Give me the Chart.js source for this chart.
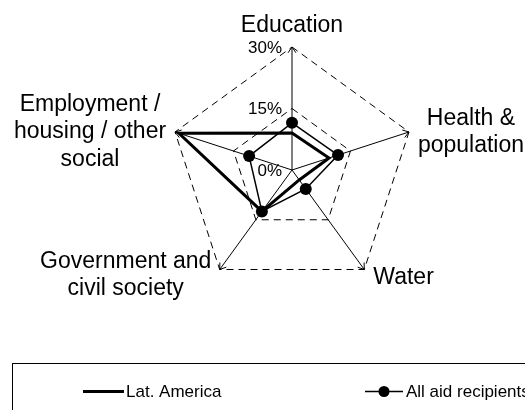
<!DOCTYPE html>
<html>
<head>
<meta charset="utf-8">
<script src="https://cdn.jsdelivr.net/npm/chart.js@4.4.1/dist/chart.umd.min.js"></script>
<style>
  html, body { margin:0; padding:0; background:#fff; }
  #wrap { width:525px; height:410px; position:relative; }
</style>
</head>
<body>
<div id="wrap"><canvas id="chartRadar"></canvas></div>
<script>
const categorias = [
  ['Education'],
  ['Health &', 'population'],
  ['Water'],
  ['Government and', 'civil society'],
  ['Employment /', 'housing / other', 'social']
];
const dataLatAm = [9, 9.5, 3, 12.5, 29];
const dataAllAid = [11.5, 11.8, 5.7, 12.5, 11];
const ticksValores = [0, 15, 30];

const FONT = '"Liberation Sans", Arial, sans-serif';

// where each category label sits relative to the end of its spoke
const labelLayout = [
  { dx: 0,   dy: -15, align: 'center' },
  { dx: 62,  dy: -7,  align: 'center' },
  { dx: 9,   dy: 14,  align: 'left' },
  { dx: -94, dy: -2,  align: 'center' },
  { dx: -85, dy: -21, align: 'center' }
];

const radarExtras = {
  id: 'radarExtras',
  afterDraw(chart){
    const {ctx} = chart;
    const r = chart.scales.r;
    const cx = r.xCenter, cy = r.yCenter;

    // arrow heads at spoke ends
    ctx.save();
    ctx.strokeStyle = '#000';
    ctx.lineWidth = 1;
    categorias.forEach((c, i) => {
      const p = r.getPointPosition(i, r.getDistanceFromCenterForValue(r.max));
      const a = Math.atan2(p.y - cy, p.x - cx);
      ctx.beginPath();
      ctx.moveTo(p.x - 7*Math.cos(a - 0.6), p.y - 7*Math.sin(a - 0.6));
      ctx.lineTo(p.x, p.y);
      ctx.lineTo(p.x - 7*Math.cos(a + 0.6), p.y - 7*Math.sin(a + 0.6));
      ctx.stroke();
    });
    ctx.restore();

    // tick labels
    ctx.save();
    ctx.fillStyle = '#000';
    ctx.font = '17px ' + FONT;
    ctx.textAlign = 'right';
    ctx.textBaseline = 'middle';
    ticksValores.forEach(v => {
      const d = r.getDistanceFromCenterForValue(v);
      ctx.fillText(v + '%', cx - 10, cy - d + 1);
    });
    ctx.restore();

    // category labels
    ctx.save();
    ctx.fillStyle = '#000';
    ctx.font = '23px ' + FONT;
    ctx.textBaseline = 'alphabetic';
    categorias.forEach((lines, i) => {
      const p = r.getPointPosition(i, r.getDistanceFromCenterForValue(r.max));
      const lay = labelLayout[i];
      ctx.textAlign = lay.align;
      lines.forEach((t, k) => {
        ctx.fillText(t, p.x + lay.dx, p.y + lay.dy + k*27.5);
      });
    });
    ctx.restore();

    // legend box
    ctx.save();
    ctx.strokeStyle = '#000';
    ctx.lineWidth = 1;
    ctx.strokeRect(12.5, 363.5, 600, 100);
    const ds = chart.data.datasets;
    ctx.font = '17px ' + FONT;
    ctx.fillStyle = '#000';
    ctx.textAlign = 'left';
    ctx.textBaseline = 'middle';
    // Lat. America
    ctx.strokeStyle = '#000';
    ctx.lineWidth = 3;
    ctx.beginPath(); ctx.moveTo(83, 391.5); ctx.lineTo(124, 391.5); ctx.stroke();
    ctx.fillText(ds[0].label, 126, 392);
    // All aid recipients
    ctx.lineWidth = 1.5;
    ctx.beginPath(); ctx.moveTo(365, 391.5); ctx.lineTo(403, 391.5); ctx.stroke();
    ctx.beginPath(); ctx.arc(384, 391.5, 5.5, 0, Math.PI*2); ctx.fill();
    ctx.fillText(ds[1].label, 406, 392);
    ctx.restore();
  }
};

new Chart(document.getElementById('chartRadar'), {
  type:'radar',
  data:{
    labels: categorias,
    datasets:[{
      label:'Lat. America',
      data:dataLatAm,
      borderColor:'#000',
      borderWidth:3,
      borderJoinStyle:'miter',
      fill:false,
      pointRadius:0,
      pointHoverRadius:0
    },{
      label:'All aid recipients',
      data:dataAllAid,
      borderColor:'#000',
      borderWidth:1.5,
      fill:false,
      pointRadius:6,
      pointBorderWidth:0,
      pointBackgroundColor:'#000'
    }]
  },
  options:{
    responsive:true,
    maintainAspectRatio:false,
    animation:false,
    layout:{ padding:{ left:169, top:47, right:110, bottom:117 } },
    plugins:{ legend:{ display:false }, tooltip:{ enabled:false } },
    elements:{ line:{ tension:0 } },
    scales:{
      r:{
        min:0,
        max:30,
        ticks:{ stepSize:15, display:false },
        pointLabels:{ display:false },
        grid:{ color:'#000', lineWidth:1 },
        border:{ dash:[7,5] },
        angleLines:{ color:'#000', lineWidth:1 }
      }
    }
  },
  plugins:[radarExtras]
});
</script>
</body>
</html>
